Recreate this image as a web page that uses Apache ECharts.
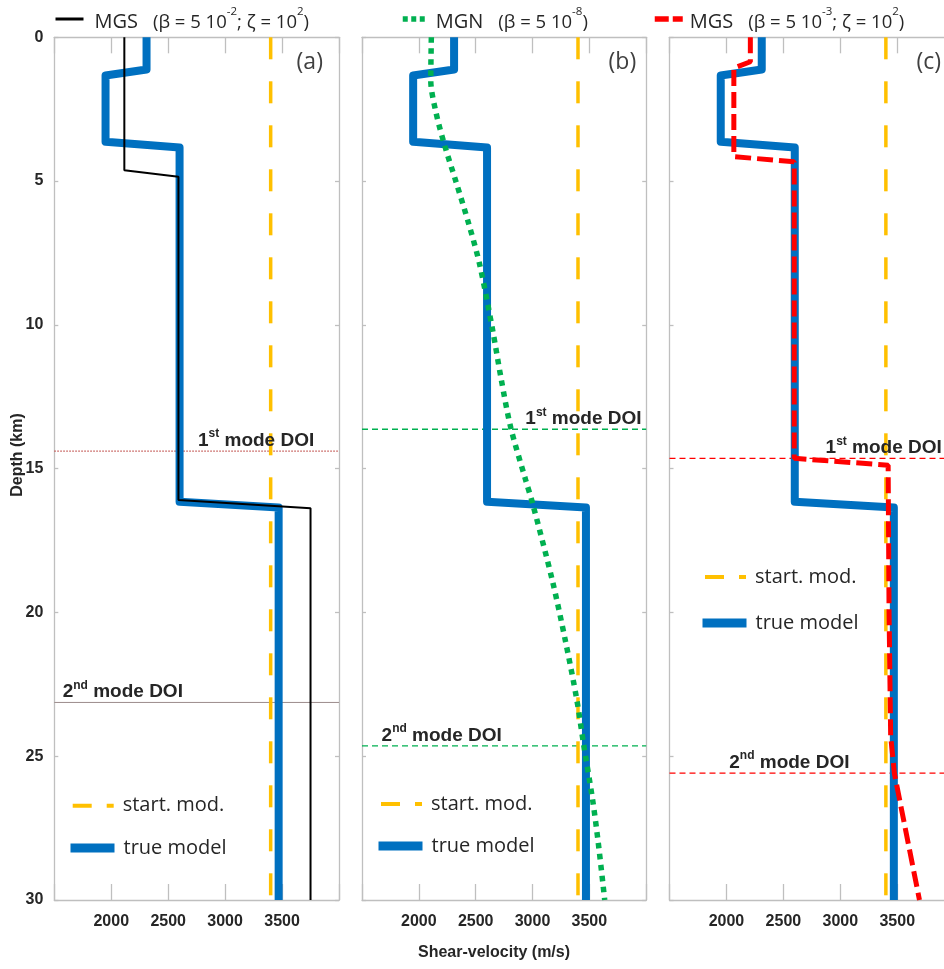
<!DOCTYPE html>
<html>
<head>
<meta charset="utf-8">
<script src="https://cdn.jsdelivr.net/npm/echarts@6/dist/echarts.min.js"></script>
<style>html,body{margin:0;padding:0;background:#fff;overflow:hidden;}#c{width:960px;height:969px;}</style>
</head>
<body>
<div id="c"></div>
<script>
// ---------- data ----------
const depthTicks = [0, 5, 10, 15, 20, 25, 30];
const velTicks = [2000, 2500, 3000, 3500];
const velRange = [1500, 4000];
const depthRange = [0, 30];

const startDepth = [0, 30];
const startVel = [3400, 3400];

const trueDepth = [0, 1.12, 1.33, 3.63, 3.83, 16.15, 16.35, 30];
const trueVel = [2310, 2310, 1950, 1950, 2600, 2600, 3470, 3470];

const mgsADepth = [0, 4.62, 4.85, 16.09, 16.38, 30];
const mgsAVel = [2115, 2115, 2590, 2590, 3750, 3750];

const mgnDepth = [0, 1.5, 2.6, 3.8, 5, 6.5, 7.9, 10.2, 11.9, 13.6, 15.4, 16.2, 18.9, 21, 23, 24.6, 26.5, 28, 30];
const mgnVel = [2110, 2105, 2150, 2230, 2325, 2440, 2535, 2650, 2725, 2810, 2940, 3000, 3175, 3290, 3388, 3450, 3528, 3578, 3635];

const mgsCDepth = [0, 0.85, 1.07, 4.15, 4.33, 14.64, 14.88, 20, 24.3, 25.6, 30];
const mgsCVel = [2210, 2210, 2065, 2065, 2595, 2595, 3420, 3428, 3442, 3475, 3695];

const doiA = [14.39, 23.13];
const doiB = [13.63, 24.64];
const doiC = [14.64, 25.59];

const panelLabels = ['(a)', '(b)', '(c)'];
const doiTexts = ['{b|1}{s|st}{b| mode DOI}', '{b|2}{s|nd}{b| mode DOI}'];

// ---------- helpers ----------
const pair = (v, d) => v.map((x, i) => [x, d[i]]);
const C = { blue: '#0070C0', yellow: '#FFC000', green: '#00B050', red: '#FF0000', black: '#000000' };
const tickFont = 'Liberation Sans';
const txtFont = 'Open Sans';

const gridPos = [
  { left: 54.3, width: 284.7 },
  { left: 362, width: 284.2 },
  { left: 669.5, width: 284.7 }
];
const grid = gridPos.map(g => ({ left: g.left, width: g.width, top: 37.3, height: 862.7, containLabel: false }));

const axisLineStyle = { color: '#bfbfbf', width: 1.3 };
const xAxis = [], yAxis = [];
for (let i = 0; i < 3; i++) {
  const base = { type: 'value', gridIndex: i, min: velRange[0], max: velRange[1], interval: 500,
    splitLine: { show: false }, axisLine: { show: true, onZero: false, lineStyle: axisLineStyle },
    axisTick: { show: true, inside: true, length: 16, lineStyle: axisLineStyle } };
  xAxis.push(Object.assign({}, base, { position: 'bottom',
    axisLabel: { show: true, margin: 14, fontFamily: tickFont, fontWeight: 'bold', fontSize: 16, color: '#262626',
      formatter: v => velTicks.includes(v) ? String(v) : '' } }));
  xAxis.push(Object.assign({}, base, { position: 'top', axisLabel: { show: false } }));
  const ybase = { type: 'value', gridIndex: i, min: depthRange[0], max: depthRange[1], interval: 5, inverse: true,
    splitLine: { show: false }, axisLine: { show: true, onZero: false, lineStyle: axisLineStyle },
    axisTick: { show: true, inside: true, length: 4, lineStyle: axisLineStyle } };
  yAxis.push(Object.assign({}, ybase, { position: 'left',
    axisLabel: { show: i === 0, margin: 11, fontFamily: tickFont, fontWeight: 'bold', fontSize: 16, color: '#262626',
      formatter: v => depthTicks.includes(v) ? String(v) : '' } }));
  yAxis.push(Object.assign({}, ybase, { position: 'right', axisLabel: { show: false } }));
}

const series = [];
function line(i, name, data, style, z, extra) {
  series.push(Object.assign({ type: 'line', name, xAxisIndex: i * 2, yAxisIndex: i * 2, data, symbol: 'none', z: z || 2,
    lineStyle: style, itemStyle: { color: style.color }, animation: false, silent: true, clip: true }, extra || {}));
}
function textMark(i, v, d, text, label) {
  series.push({ type: 'scatter', xAxisIndex: i * 2, yAxisIndex: i * 2, data: [[v, d]], symbolSize: 0.1,
    itemStyle: { color: 'transparent', opacity: 1 }, z: 10, silent: true, animation: false,
    label: Object.assign({ show: true, formatter: text, position: [0, 0] }, label) });
}
const doiRich = {
  b: { fontFamily: tickFont, fontWeight: 'bold', fontSize: 19, color: '#262626', lineHeight: 22, verticalAlign: 'bottom' },
  s: { fontFamily: tickFont, fontWeight: 'bold', fontSize: 12, color: '#262626', lineHeight: 15, verticalAlign: 'top' }
};
const doiSets = [doiA, doiB, doiC];
const doiStyles = [
  [{ color: '#c0504d', width: 1.2, type: [1.5, 1.5] }, { color: '#9c8c8c', width: 1 }],
  [{ color: C.green, width: 1.3, type: [6, 4] }, { color: C.green, width: 1.3, type: [6, 4] }],
  [{ color: C.red, width: 1.3, type: [6, 4] }, { color: C.red, width: 1.3, type: [6, 4] }]
];
const doiTextPos = [[2762, 1574], [2937, 1673], [2871, 2025]];
const panelLabelPos = [3628, 3669, 3670];

for (let i = 0; i < 3; i++) {
  for (let k = 0; k < 2; k++) {
    line(i, 'doi' + i + k, [[velRange[0], doiSets[i][k]], [velRange[1], doiSets[i][k]]], doiStyles[i][k], 1);
    textMark(i, doiTextPos[i][k], doiSets[i][k], doiTexts[k],
      { align: 'left', verticalAlign: 'bottom', offset: [0, -1], rich: doiRich });
  }
  line(i, 'start. mod.', pair(startVel, startDepth), { color: C.yellow, width: 3.5, type: [22, 22], cap: 'butt' }, 3);
  line(i, 'true model', pair(trueVel, trueDepth), { color: C.blue, width: 8, join: 'round' }, 4);
  textMark(i, panelLabelPos[i], 0.89, panelLabels[i],
    { align: 'left', verticalAlign: 'middle', fontFamily: txtFont, fontSize: 23, color: '#404040' });
}
line(0, 'MGS1', pair(mgsAVel, mgsADepth), { color: C.black, width: 2 }, 5);
line(1, 'MGN', pair(mgnVel, mgnDepth), { color: C.green, width: 5.5, type: [5.5, 5.5], cap: 'butt' }, 5, { smooth: 0.3 });
line(2, 'MGS2', pair(mgsCVel, mgsCDepth), { color: C.red, width: 5, type: [16, 6], cap: 'butt' }, 5);

// ---------- legends ----------
const topRich = {
  m: { fontFamily: txtFont, fontSize: 20, color: '#262626', lineHeight: 26, verticalAlign: 'bottom' },
  g: { width: 15 },
  p: { fontFamily: txtFont, fontSize: 18.5, color: '#262626', lineHeight: 26, verticalAlign: 'bottom' },
  s: { fontFamily: txtFont, fontSize: 11.5, color: '#262626', lineHeight: 17, verticalAlign: 'top' }
};
const topLegendText = {
  MGS1: '{m|MGS}{g|}{p|(β = 5 10}{s|-2}{p|; ζ = 10}{s|2}{p|)}',
  MGN: '{m|MGN}{g|}{p|(β = 5 10}{s|-8}{p|)}',
  MGS2: '{m|MGS}{g|}{p|(β = 5 10}{s|-3}{p|; ζ = 10}{s|2}{p|)}'
};
const hideSym = { opacity: 0 };
function topLegend(name, left, width, ls, gap) {
  return { show: true, left, top: 6, itemWidth: width, itemHeight: 14, padding: 0, selectedMode: false,
    data: [{ name, lineStyle: ls, itemStyle: hideSym }], formatter: n => topLegendText[n],
    textStyle: { rich: topRich, padding: [0, 0, 0, gap] } };
}
const legIn = (name, left, cy, width, ls) => ({ show: true, left, top: cy - 12, itemWidth: width, itemHeight: 14,
  padding: 0, selectedMode: false, data: [{ name, lineStyle: ls, itemStyle: hideSym }],
  textStyle: { fontFamily: txtFont, fontSize: 20, color: '#262626', lineHeight: 24, padding: [0, 0, 0, 4] } });

const legend = [
  topLegend('MGS1', 54, 28, { width: 3, color: C.black, type: 'solid' }, 6),
  topLegend('MGN', 400, 22, { width: 5.5, color: C.green, type: [5, 3.5], cap: 'butt' }, 6),
  topLegend('MGS2', 652, 28, { width: 5.5, color: C.red, type: [14, 4], cap: 'butt' }, 2),
  legIn('start. mod.', 70.7, 805.7, 41, { width: 4, color: C.yellow, type: [19, 15] }),
  legIn('true model', 66, 848, 44, { width: 9, color: C.blue, type: 'solid' }),
  legIn('start. mod.', 379, 804, 41, { width: 4, color: C.yellow, type: [19, 15] }),
  legIn('true model', 374, 846, 44, { width: 9, color: C.blue, type: 'solid' }),
  legIn('start. mod.', 703, 577, 41, { width: 4, color: C.yellow, type: [19, 15] }),
  legIn('true model', 698, 623, 44, { width: 9, color: C.blue, type: 'solid' })
];

const chart = echarts.init(document.getElementById('c'), null, { renderer: 'canvas' });
chart.setOption({
  animation: false,
  backgroundColor: '#ffffff',
  grid, xAxis, yAxis, series, legend,
  title: { text: 'Shear-velocity (m/s)', left: 494, top: 945, textAlign: 'center',
    textStyle: { fontFamily: tickFont, fontWeight: 'bold', fontSize: 16, color: '#262626' }, padding: 0 },
  graphic: [{ type: 'text', x: 18, y: 455, rotation: Math.PI / 2,
    style: { text: 'Depth (km)', textAlign: 'center', textVerticalAlign: 'middle',
      font: 'bold 16px "Liberation Sans"', fill: '#262626' } }]
});
</script>
</body>
</html>
